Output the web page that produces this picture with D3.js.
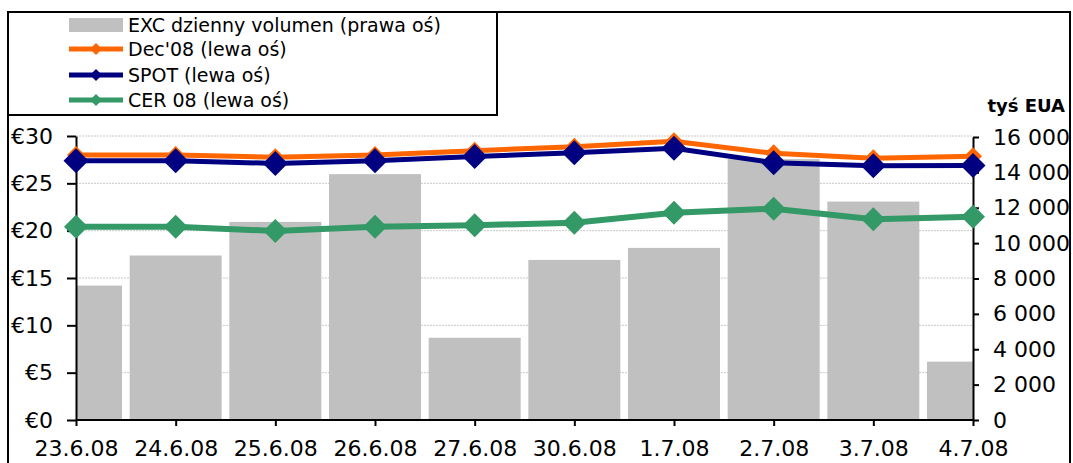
<!DOCTYPE html>
<html>
<head>
<meta charset="utf-8">
<script src="https://cdn.jsdelivr.net/npm/d3@7"></script>
<style>
  body { margin: 0; background: #fff; }
  svg { font-family: "DejaVu Sans", Verdana, sans-serif; }
</style>
</head>
<body>
<script>
// data
const dates = ["23.6.08","24.6.08","25.6.08","26.6.08","27.6.08","30.6.08","1.7.08","2.7.08","3.7.08","4.7.08"]
const volume = [7600, 9300, 11200, 13900, 4650, 9050, 9730, 14750, 12350, 3300]
const dec08 = [28.0, 28.0, 27.75, 28.0, 28.45, 28.87, 29.44, 28.17, 27.64, 27.85]
const spot = [27.39, 27.39, 27.1, 27.39, 27.83, 28.24, 28.7, 27.18, 26.86, 26.88]
const cer = [20.42, 20.42, 19.96, 20.42, 20.57, 20.84, 21.9, 22.32, 21.2, 21.47]
const leftTicks = [0, 5, 10, 15, 20, 25, 30]
const rightTicks = [0, 2000, 4000, 6000, 8000, 10000, 12000, 14000, 16000]

const W = 1073, H = 463
const plot = {left: 76, right: 973, top: 136, bottom: 420}

const svg = d3.select("body").append("svg")
  .attr("width", W).attr("height", H)

// outer frame
svg.append("path")
  .attr("d", `M8,${H} L8,12 L1070,12 L1070,${H}`)
  .attr("fill", "none").attr("stroke", "#000").attr("stroke-width", 2)

const x = d3.scalePoint().domain(dates).range([plot.left, plot.right])
const yL = d3.scaleLinear().domain([0, 30]).range([plot.bottom, plot.top])
const yR = d3.scaleLinear().domain([0, 16000]).range([plot.bottom, plot.top + 1])

// gridlines
svg.append("g").selectAll("line")
  .data(leftTicks.filter(d => d > 0))
  .enter().append("line")
  .attr("x1", plot.left).attr("x2", plot.right)
  .attr("y1", d => yL(d)).attr("y2", d => yL(d))
  .attr("stroke", "#c8c8c8").attr("stroke-width", 1)
  .attr("stroke-dasharray", "2,1")

// bars (clipped to the plot area)
svg.append("clipPath").attr("id", "clip")
  .append("rect")
  .attr("x", plot.left).attr("y", 0)
  .attr("width", plot.right - plot.left).attr("height", plot.bottom)

const barW = 92
svg.append("g").attr("clip-path", "url(#clip)")
  .selectAll("rect")
  .data(volume)
  .enter().append("rect")
  .attr("x", (d, i) => x(dates[i]) - barW / 2)
  .attr("y", d => yR(d))
  .attr("width", barW)
  .attr("height", d => plot.bottom - yR(d))
  .attr("fill", "#c0c0c0")

// axes
const axL = svg.append("g")
  .attr("transform", `translate(${plot.left},0)`)
  .call(d3.axisLeft(yL).tickValues(leftTicks).tickFormat(d => "€" + d)
    .tickSizeInner(9).tickSizeOuter(0).tickPadding(14))
const axR = svg.append("g")
  .attr("transform", `translate(${plot.right},0)`)
  .call(d3.axisRight(yR).tickValues(rightTicks)
    .tickFormat(d => d3.format(",")(d).replace(/,/g, " "))
    .tickSizeInner(6).tickSizeOuter(0).tickPadding(14))
const axB = svg.append("g")
  .attr("transform", `translate(0,${plot.bottom})`)
  .call(d3.axisBottom(x).tickSizeInner(6).tickSizeOuter(0).tickPadding(14))

for (const ax of [axL, axR, axB]) {
  ax.select(".domain").attr("stroke", "#000").attr("stroke-width", 2)
  ax.selectAll(".tick line").attr("stroke", "#000").attr("stroke-width", 2)
  ax.selectAll("text").attr("fill", "#000")
    .style("font-family", "DejaVu Sans").style("font-size", "22px")
}
axB.select(".domain").attr("d", `M${plot.left},0H${plot.right}`)

svg.append("text")
  .text("tyś EUA")
  .attr("x", 1065).attr("y", 112)
  .attr("text-anchor", "end")
  .style("font-weight", "bold").style("font-size", "18px")

// lines
const diamond = r => `M0,${-r}L${r},0L0,${r}L${-r},0Z`
const series = [
  {name: "CER 08 (lewa oś)", values: cer, color: "#339966", width: 6, r: 12},
  {name: "Dec'08 (lewa oś)", values: dec08, color: "#ff6600", width: 5, r: 9},
  {name: "SPOT (lewa oś)", values: spot, color: "#000080", width: 5, r: 12.5}
]
const line = d3.line().x((d, i) => x(dates[i])).y(d => yL(d))

for (const s of series) {
  const g = svg.append("g")
  g.append("path")
    .attr("d", line(s.values))
    .attr("fill", "none")
    .attr("stroke", s.color)
    .attr("stroke-width", s.width)
  g.selectAll("path.pt")
    .data(s.values)
    .enter().append("path")
    .attr("class", "pt")
    .attr("d", diamond(s.r))
    .attr("transform", (d, i) => `translate(${x(dates[i])},${yL(d)})`)
    .attr("fill", s.color)
}

// legend
const legend = svg.append("g")
legend.append("rect")
  .attr("x", 8).attr("y", 12).attr("width", 489).attr("height", 103)
  .attr("fill", "#fff").attr("stroke", "#000").attr("stroke-width", 2)

const legItems = [
  {name: "EXC dzienny volumen (prawa oś)", type: "bar", color: "#c0c0c0"},
  {name: "Dec'08 (lewa oś)", type: "line", color: "#ff6600"},
  {name: "SPOT (lewa oś)", type: "line", color: "#000080"},
  {name: "CER 08 (lewa oś)", type: "line", color: "#339966"}
]
const legY = [25, 49, 75, 100]
legItems.forEach((d, i) => {
  const cy = legY[i]
  if (d.type === "bar") {
    legend.append("rect")
      .attr("x", 69).attr("y", cy - 7).attr("width", 54).attr("height", 14)
      .attr("fill", d.color)
  } else {
    legend.append("line")
      .attr("x1", 69).attr("x2", 123).attr("y1", cy).attr("y2", cy)
      .attr("stroke", d.color).attr("stroke-width", 5)
    legend.append("path")
      .attr("d", diamond(6))
      .attr("transform", `translate(96,${cy})`)
      .attr("fill", d.color)
  }
  legend.append("text")
    .text(d.name)
    .attr("x", 128).attr("y", cy + 7)
    .style("font-size", "19px")
})
</script>
</body>
</html>
